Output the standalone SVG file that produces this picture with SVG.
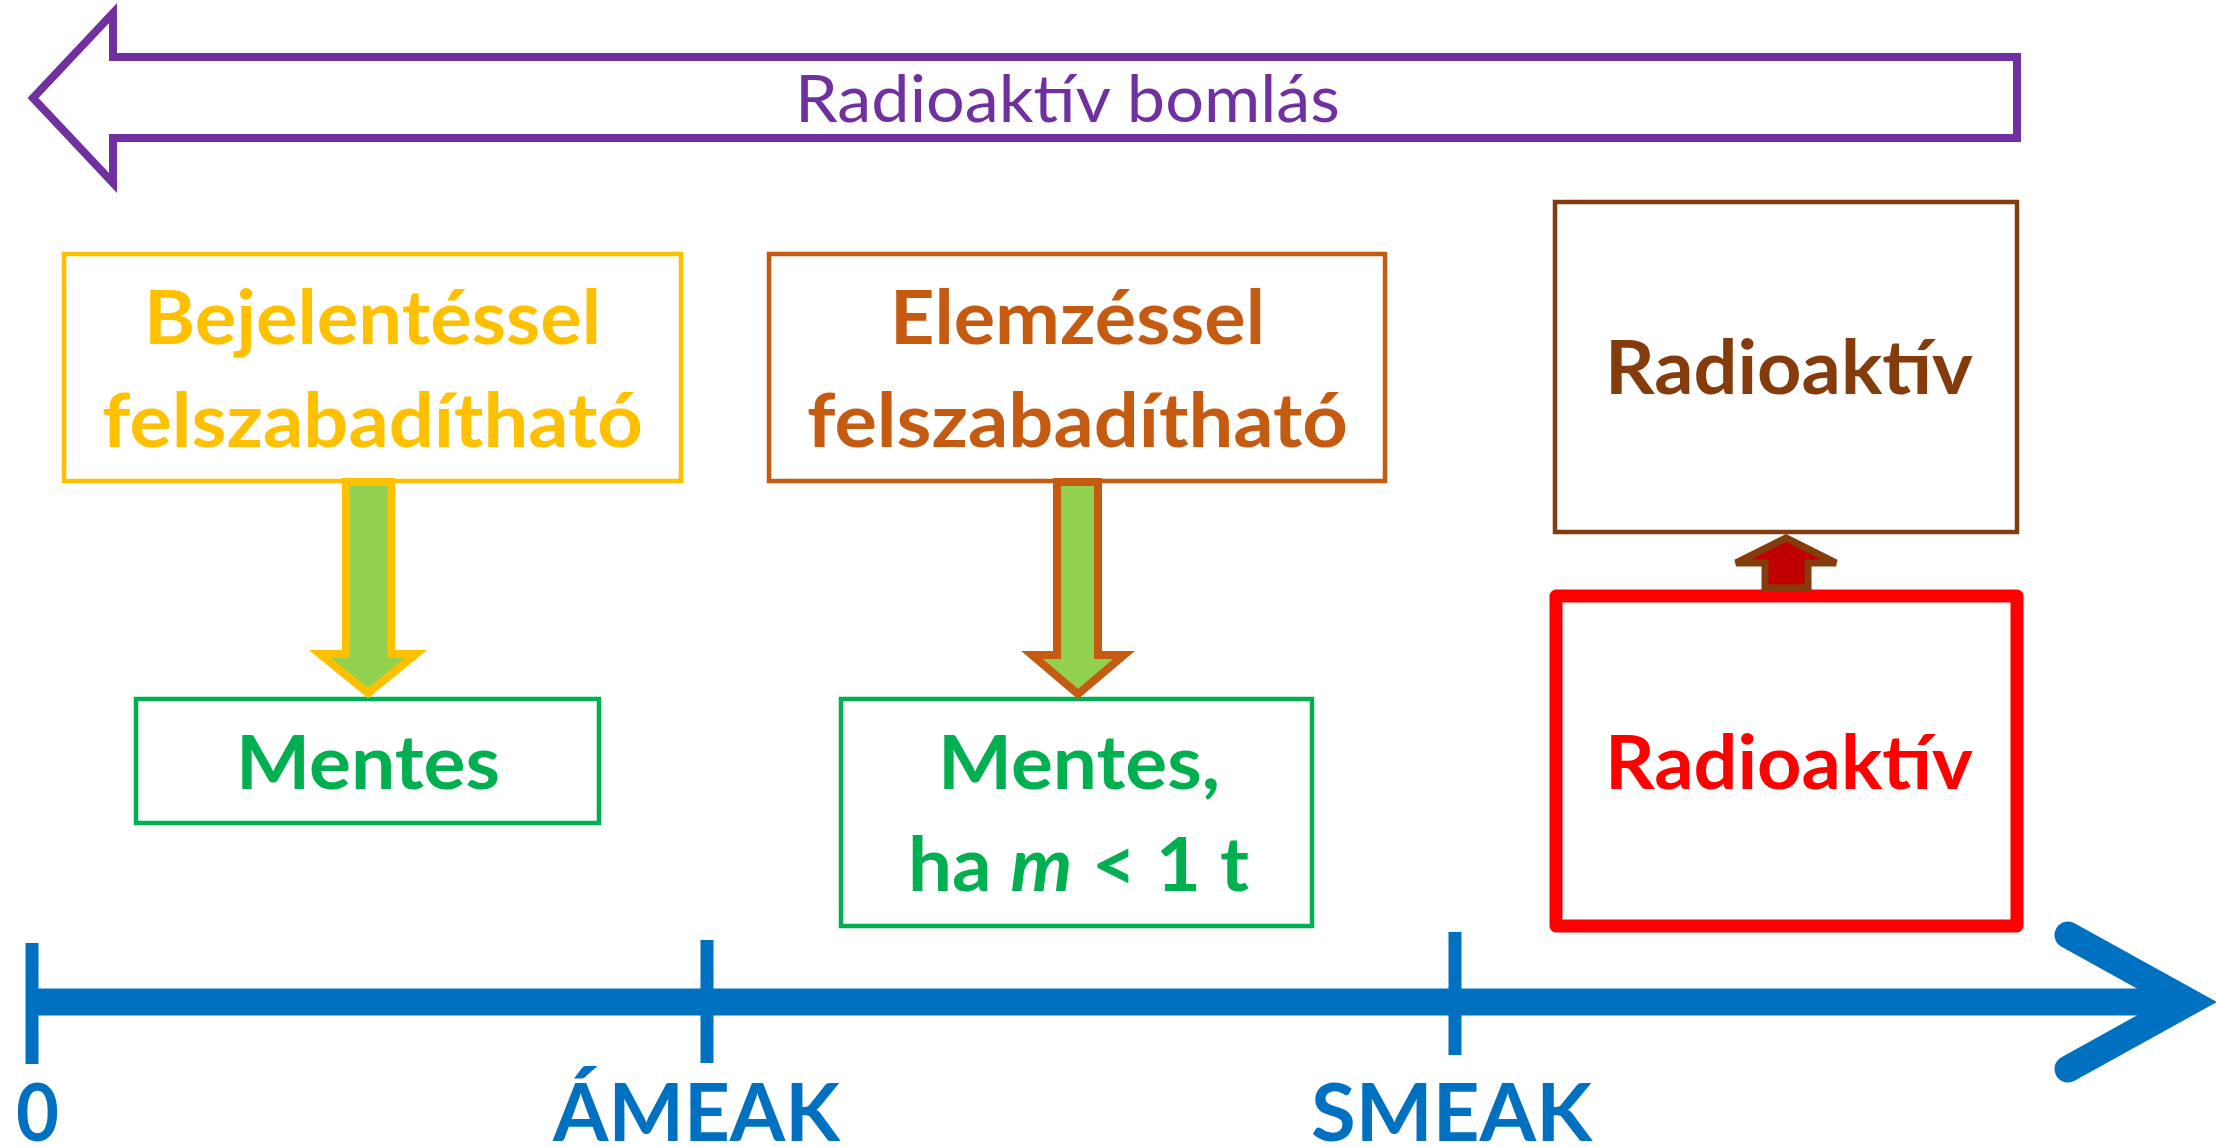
<svg xmlns="http://www.w3.org/2000/svg" width="2216" height="1147" viewBox="0 0 2216 1147">
<style>
text{font-family:Lato,"Open Sans","Liberation Sans",sans-serif;font-weight:bold;font-size:74px}
.box{fill:#fff;stroke-width:4.5}
.axis{stroke:#0070C0;fill:none}
.axt{fill:#0070C0;font-size:80px}
</style>
<rect width="2216" height="1147" fill="#fff"/>
<g id="decay">
<path d="M2017,57 L113,57 L113,13 L33,98 L113,183 L113,138 L2017,138 Z" fill="#fff" stroke="#7030A0" stroke-width="8"/>
<text x="795" y="122" fill="#7030A0" style="font-weight:normal;font-size:66px" textLength="545" lengthAdjust="spacingAndGlyphs">Radioaktív bomlás</text>
</g>
<g id="node-bejelentes">
<rect class="box" x="64" y="254" width="617" height="227" stroke="#FFC000"/>
<text x="144" y="344" fill="#FFC000" textLength="457" lengthAdjust="spacingAndGlyphs">Bejelentéssel</text>
<text x="102" y="447" fill="#FFC000" textLength="541" lengthAdjust="spacingAndGlyphs">felszabadítható</text>
</g>
<g id="node-elemzes">
<rect class="box" x="769" y="254" width="616" height="227" stroke="#C55A11"/>
<text x="890" y="344" fill="#C55A11" textLength="375" lengthAdjust="spacingAndGlyphs">Elemzéssel</text>
<text x="807" y="447" fill="#C55A11" textLength="541" lengthAdjust="spacingAndGlyphs">felszabadítható</text>
</g>
<g id="node-radio-brown">
<rect class="box" x="1555" y="202" width="462" height="330" stroke="#843C0C"/>
<text x="1605" y="394" fill="#843C0C" textLength="368" lengthAdjust="spacingAndGlyphs">Radioaktív</text>
</g>
<g id="node-mentes">
<rect class="box" x="136" y="699" width="463" height="124" stroke="#00B050"/>
<text x="236" y="789" fill="#00B050" textLength="264" lengthAdjust="spacingAndGlyphs">Mentes</text>
</g>
<g id="node-mentes-ha">
<rect class="box" x="841" y="699" width="471" height="227" stroke="#00B050"/>
<text x="938" y="789" fill="#00B050" textLength="282" lengthAdjust="spacingAndGlyphs">Mentes,</text>
<text x="908" y="891" fill="#00B050" textLength="341" lengthAdjust="spacingAndGlyphs">ha <tspan font-style="italic">m</tspan> &lt; 1 t</text>
</g>
<g id="node-radio-red">
<rect x="1556" y="596" width="461" height="330" fill="#fff" stroke="#FF0000" stroke-width="13" stroke-linejoin="round"/>
<text x="1605" y="789" fill="#FF0000" textLength="368" lengthAdjust="spacingAndGlyphs">Radioaktív</text>
</g>
<g id="connectors">
<path d="M346,482 L391,482 L391,654 L416,654 L368,693 L320,654 L346,654 Z" fill="#92D050" stroke="#FFC000" stroke-width="8" stroke-linejoin="miter"/>
<path d="M1057,482 L1098,482 L1098,655 L1124,655 L1078,694 L1032,655 L1057,655 Z" fill="#92D050" stroke="#C55A11" stroke-width="8"/>
<path d="M1765,588 L1808,588 L1808,563 L1836,563 L1786,538 L1736,563 L1765,563 Z" fill="#C00000" stroke="#843C0C" stroke-width="7"/>
</g>
<g id="axis">
<line class="axis" x1="32" y1="1002" x2="2190" y2="1002" stroke-width="27"/>
<polyline class="axis" points="2068,935 2189,1002 2068,1069" stroke-width="27" stroke-linecap="round" stroke-miterlimit="10"/>
<line class="axis" x1="32" y1="943" x2="32" y2="1064" stroke-width="13"/>
<line class="axis" x1="707" y1="940" x2="707" y2="1063" stroke-width="13"/>
<line class="axis" x1="1455" y1="932" x2="1455" y2="1055" stroke-width="13"/>
<text class="axt" x="16" y="1141" textLength="43" lengthAdjust="spacingAndGlyphs">0</text>
<text class="axt" x="553" y="1141" textLength="287" lengthAdjust="spacingAndGlyphs">ÁMEAK</text>
<text class="axt" x="1311" y="1141" textLength="281" lengthAdjust="spacingAndGlyphs">SMEAK</text>
</g>
</svg>
